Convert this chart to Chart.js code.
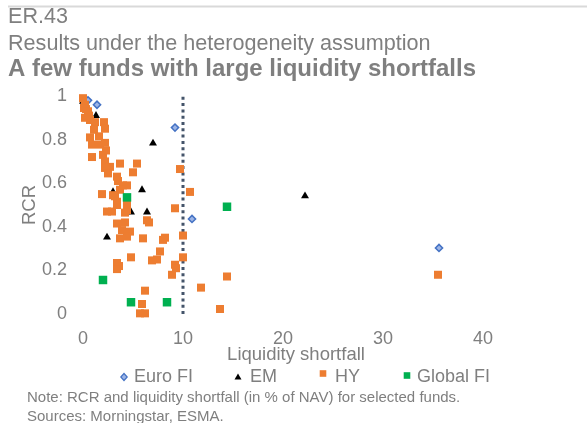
<!DOCTYPE html>
<html>
<head>
<meta charset="utf-8">
<script src="https://cdn.jsdelivr.net/npm/chart.js@4.4.1/dist/chart.umd.min.js"></script>
<style>
  html, body { margin: 0; padding: 0; background: #fff; }
</style>
</head>
<body>
<canvas id="chart" width="587" height="423"></canvas>
<script>
// Series values (x = liquidity shortfall, y = RCR)
const seriesNames = ['Euro FI', 'EM', 'HY', 'Global FI'];

const euroX = [0.5, 1.4, 9.2, 10.9, 35.6];
const euroY = [0.98, 0.96, 0.855, 0.436, 0.303];

const emX = [0.0, 1.3, 1.0, 7.0, 5.9, 3.0, 6.4, 4.8, 2.4, 22.2];
const emY = [0.975, 0.91, 0.885, 0.783, 0.569, 0.56, 0.467, 0.467, 0.352, 0.541];

const hyX = [0.0, 0.2, 0.3, 0.6, 0.7, 1.2, 2.1, 2.2, 1.1, 0.7,
             1.6, 2.2, 0.9, 1.7, 2.3, 0.9, 2.0, 2.2, 2.2, 2.7,
             3.7, 5.4, 5.0, 2.5, 3.4, 3.5, 4.0, 4.4, 3.7, 1.9,
             3.0, 3.2, 3.4, 4.4, 2.4, 2.9, 3.4, 4.4, 4.2, 6.4,
             6.6, 3.4, 4.2, 3.9, 4.7, 4.4, 3.7, 6.0, 8.2, 8.0,
             9.2, 10.0, 7.7, 7.4, 6.9, 4.8, 3.4, 3.6, 3.4, 9.2,
             9.3, 8.9, 10.0, 6.2, 5.9, 5.7, 6.2, 9.7, 10.7, 14.4,
             11.8, 13.7, 35.5, 0.1, 0.5, 0.2];
const hyY = [0.99, 0.96, 0.94, 0.91, 0.89, 0.88, 0.88, 0.85, 0.845, 0.81,
             0.815, 0.785, 0.777, 0.777, 0.75, 0.72, 0.73, 0.70, 0.67, 0.675,
             0.69, 0.69, 0.65, 0.645, 0.63, 0.61, 0.59, 0.59, 0.57, 0.55,
             0.545, 0.54, 0.515, 0.51, 0.47, 0.47, 0.50, 0.477, 0.465, 0.43,
             0.42, 0.415, 0.42, 0.385, 0.378, 0.355, 0.347, 0.347, 0.35, 0.34,
             0.485, 0.36, 0.287, 0.25, 0.246, 0.26, 0.234, 0.22, 0.206, 0.226,
             0.21, 0.18, 0.26, 0.107, 0.046, 0.003, 0.003, 0.665, 0.56, 0.172,
             0.121, 0.023, 0.18, 0.945, 0.93, 0.90];

const globalX = [4.4, 14.4, 2.0, 4.8, 8.4];
const globalY = [0.535, 0.492, 0.156, 0.054, 0.054];

// vertical reference line at 10% of NAV
const cutoffX = 10;
const cutoffY = [0, 1.01];

const xTicks = [0, 10, 20, 30, 40];
const yTicks = [0, 0.2, 0.4, 0.6, 0.8, 1];

const grey = '#7f7f7f';
const toPoints = (xs, ys) => xs.map((x, i) => ({ x, y: ys[i] }));

// top rule, legend row and the notes under the chart
const decorations = {
  id: 'decorations',
  afterDraw(chart) {
    const ctx = chart.ctx;
    ctx.save();
    ctx.strokeStyle = '#d9d9d9';
    ctx.lineWidth = 2;
    ctx.beginPath();
    ctx.moveTo(8, 6.5);
    ctx.lineTo(587, 6.5);
    ctx.stroke();

    // legend
    const markerX = [124, 238, 323, 407];
    const textX = [134, 250, 335, 417];
    ctx.font = '18px "Liberation Sans", Arial, sans-serif';
    ctx.textBaseline = 'middle';
    ctx.textAlign = 'left';
    seriesNames.forEach((name, i) => {
      const ds = chart.data.datasets.find(d => d.label === name);
      const x = markerX[i];
      ctx.fillStyle = ds.backgroundColor;
      ctx.strokeStyle = ds.borderColor || ds.backgroundColor;
      ctx.beginPath();
      if (ds.pointStyle === 'rectRot') {
        ctx.moveTo(x, 373.5); ctx.lineTo(x + 3.2, 377); ctx.lineTo(x, 380.5); ctx.lineTo(x - 3.2, 377);
        ctx.closePath(); ctx.fill(); ctx.lineWidth = 1.2; ctx.stroke();
      } else if (ds.pointStyle === 'triangle') {
        ctx.moveTo(x, 373.5); ctx.lineTo(x + 3.5, 379.5); ctx.lineTo(x - 3.5, 379.5);
        ctx.closePath(); ctx.fill();
      } else {
        const yc = name === 'HY' ? 373.5 : 375.5;
        ctx.rect(x - 3.3, yc - 3.3, 6.6, 6.6);
        ctx.fill();
      }
      ctx.fillStyle = grey;
      ctx.fillText(name, textX[i], 377);
    });

    ctx.font = '15px "Liberation Sans", Arial, sans-serif';
    ctx.fillStyle = grey;
    ctx.fillText('Note: RCR and liquidity shortfall (in % of NAV) for selected funds.', 27, 398);
    ctx.fillText('Sources: Morningstar, ESMA.', 27, 417);
    ctx.restore();
  }
};

Chart.defaults.font.family = '"Liberation Sans", Arial, sans-serif';
Chart.defaults.color = grey;

new Chart(document.getElementById('chart'), {
  type: 'scatter',
  data: {
    datasets: [
      {
        label: 'cutoff',
        data: cutoffY.map(y => ({ x: cutoffX, y })),
        showLine: true,
        borderColor: '#44546a',
        borderWidth: 3,
        borderDash: [3, 3.3],
        pointRadius: 0,
        order: 5,
        clip: false
      },
      {
        label: seriesNames[0],
        data: toPoints(euroX, euroY),
        pointStyle: 'rectRot',
        pointRadius: 3.6,
        backgroundColor: '#9db5e6',
        borderColor: '#4472c4',
        borderWidth: 1.5,
        order: 4,
        clip: false
      },
      {
        label: seriesNames[1],
        data: toPoints(emX, emY),
        pointStyle: 'triangle',
        pointRadius: 4.6,
        backgroundColor: '#000000',
        borderWidth: 0,
        order: 3,
        clip: false
      },
      {
        label: seriesNames[2],
        data: toPoints(hyX, hyY),
        pointStyle: 'rect',
        pointRadius: 5.66,
        backgroundColor: '#ed7d31',
        borderWidth: 0,
        order: 2,
        clip: false
      },
      {
        label: seriesNames[3],
        data: toPoints(globalX, globalY),
        pointStyle: 'rect',
        pointRadius: 6,
        backgroundColor: '#00b050',
        borderWidth: 0,
        order: 1,
        clip: false
      }
    ]
  },
  options: {
    responsive: false,
    animation: false,
    layout: { padding: { left: 8, right: 78, top: 0, bottom: 58 } },
    plugins: {
      legend: { display: false },
      tooltip: { enabled: false },
      title: {
        display: true,
        align: 'start',
        text: ['ER.43', 'Results under the heterogeneity assumption'],
        color: grey,
        font: { size: 21.6, weight: 'normal', lineHeight: '27.5px' },
        padding: { top: 3, bottom: 0 }
      },
      subtitle: {
        display: true,
        align: 'start',
        text: 'A few funds with large liquidity shortfalls',
        color: grey,
        font: { size: 24, weight: 'bold', lineHeight: 1.2 },
        padding: { top: -3, bottom: 12.2 }
      }
    },
    scales: {
      x: {
        type: 'linear',
        min: 0,
        max: 42.6,
        grid: { display: false, drawTicks: false },
        border: { display: false },
        afterBuildTicks: scale => { scale.ticks = xTicks.map(v => ({ value: v })); },
        afterFit: scale => { scale.height = 51; },
        ticks: { padding: 14, font: { size: 18 }, color: grey },
        title: {
          display: true,
          text: 'Liquidity shortfall',
          color: grey,
          font: { size: 18.5 },
          padding: { top: 0, bottom: -1 }
        }
      },
      y: {
        min: 0,
        max: 1,
        grid: { display: false, drawTicks: false },
        border: { display: false },
        afterBuildTicks: scale => { scale.ticks = yTicks.map(v => ({ value: v })); },
        afterFit: scale => { scale.width = 75; },
        ticks: {
          padding: 16,
          font: { size: 18 },
          color: grey,
          callback: v => String(+v.toFixed(1))
        },
        title: {
          display: true,
          text: 'RCR',
          color: grey,
          font: { size: 18.5 },
          padding: { top: 11, bottom: 0 }
        }
      }
    }
  },
  plugins: [decorations]
});
</script>
</body>
</html>
